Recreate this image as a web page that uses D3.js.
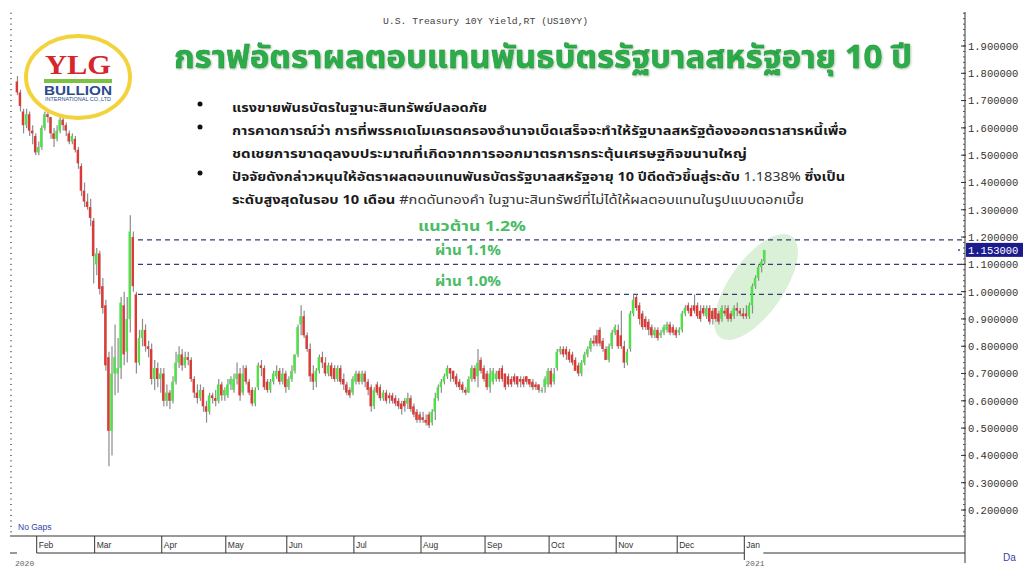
<!DOCTYPE html>
<html><head><meta charset="utf-8">
<script src="https://cdnjs.cloudflare.com/ajax/libs/d3/7.8.5/d3.min.js"></script>
<style>
html,body{margin:0;padding:0;background:#fff;}
svg{display:block;}
</style></head>
<body><svg id="chart" width="1024" height="577"></svg>
<script>
// ---- DATA (daily bars, 23 Jan 2020 – 12 Jan 2021) ----
const monthLabels = ["Jan","Feb","Mar","Apr","May","Jun","Jul","Aug","Sep","Oct","Nov","Dec","Jan"];
const monthBars   = [7,19,22,21,20,22,22,21,21,22,20,22,7];
const yTicks = [0.2,0.3,0.4,0.5,0.6,0.7,0.8,0.9,1.0,1.1,1.2,1.3,1.4,1.5,1.6,1.7,1.8,1.9];
const levels = [1.19,1.10,0.99];
const levelLabels = ["แนวต้าน 1.2%","ผ่าน 1.1%","ผ่าน 1.0%"];
const lastPrice = 1.153;

const opens = [
1.77,1.73,1.66,1.61,1.65,1.59,1.57,
1.51,1.53,1.60,1.65,1.64,1.58,1.56,1.59,1.63,1.61,1.58,1.55,1.56,1.52,1.46,1.37,1.33,1.31,1.26,
1.10,1.14,1.02,0.95,0.76,0.49,0.70,0.70,0.72,0.95,0.78,0.90,1.20,0.99,0.74,0.83,0.86,0.80,0.79,0.68,0.72,0.68,
0.70,0.60,0.63,0.60,0.67,0.74,0.77,0.73,0.76,0.75,0.68,0.63,0.61,0.64,0.58,0.56,0.62,0.61,0.60,0.66,0.62,
0.62,0.66,0.64,0.68,0.70,0.63,0.72,0.67,0.64,0.59,0.65,0.73,0.72,0.67,0.64,0.67,0.69,0.71,0.67,0.70,
0.65,0.68,0.71,0.77,0.88,0.91,0.84,0.79,0.70,0.67,0.71,0.76,0.74,0.70,0.73,0.72,0.68,0.72,0.68,0.66,0.64,0.63,
0.67,0.70,0.67,0.70,0.67,0.65,0.58,0.66,0.65,0.61,0.63,0.62,0.62,0.61,0.60,0.59,0.60,0.59,0.61,0.58,0.56,0.55,
0.54,0.53,0.55,0.52,0.56,0.61,0.65,0.67,0.69,0.72,0.71,0.69,0.67,0.66,0.64,0.63,0.68,0.72,0.69,0.75,0.72,
0.70,0.65,0.67,0.68,0.71,0.72,0.70,0.69,0.68,0.69,0.69,0.68,0.68,0.69,0.68,0.67,0.66,0.66,0.64,0.65,0.66,
0.71,0.67,0.72,0.78,0.79,0.79,0.78,0.77,0.75,0.73,0.70,0.74,0.77,0.79,0.82,0.84,0.86,0.82,0.79,0.75,0.80,0.85,
0.86,0.84,0.80,0.74,0.79,0.92,0.98,0.95,0.92,0.90,0.89,0.87,0.84,0.86,0.84,0.85,0.86,0.88,0.87,0.86,
0.85,0.86,0.92,0.95,0.94,0.95,0.95,0.93,0.94,0.91,0.94,0.93,0.94,0.92,0.90,0.93,0.94,0.92,0.91,0.94,0.93,0.92,
0.92,0.91,0.95,1.02,1.05,1.09,1.11];
const highs = [
1.79,1.74,1.67,1.67,1.66,1.61,1.58,
1.55,1.61,1.66,1.67,1.64,1.60,1.61,1.64,1.64,1.62,1.59,1.58,1.57,1.53,1.47,1.40,1.36,1.34,1.27,
1.16,1.15,1.05,0.97,0.78,0.80,0.88,0.83,0.98,1.00,0.98,1.28,1.22,1.00,0.86,0.90,0.88,0.82,0.81,0.75,0.74,0.72,
0.72,0.66,0.64,0.69,0.78,0.80,0.79,0.78,0.78,0.76,0.69,0.66,0.66,0.65,0.60,0.63,0.63,0.64,0.68,0.67,0.65,
0.68,0.69,0.70,0.74,0.72,0.73,0.73,0.68,0.65,0.65,0.74,0.75,0.73,0.68,0.68,0.71,0.73,0.72,0.72,0.71,
0.69,0.73,0.77,0.88,0.95,0.93,0.85,0.81,0.73,0.72,0.77,0.78,0.76,0.74,0.74,0.73,0.73,0.73,0.70,0.67,0.65,0.69,
0.71,0.71,0.71,0.71,0.68,0.66,0.65,0.67,0.66,0.64,0.64,0.63,0.63,0.62,0.61,0.60,0.61,0.63,0.62,0.59,0.57,0.56,
0.56,0.55,0.56,0.57,0.63,0.66,0.68,0.70,0.73,0.72,0.71,0.70,0.68,0.67,0.65,0.69,0.73,0.73,0.79,0.76,0.73,
0.71,0.72,0.72,0.71,0.72,0.73,0.70,0.70,0.69,0.70,0.69,0.69,0.69,0.69,0.68,0.68,0.67,0.66,0.65,0.69,0.72,
0.72,0.72,0.79,0.80,0.80,0.80,0.79,0.78,0.76,0.74,0.75,0.78,0.80,0.83,0.84,0.86,0.87,0.83,0.80,0.81,0.86,0.88,
0.88,0.93,0.82,0.79,0.93,0.99,0.99,0.96,0.93,0.91,0.90,0.88,0.87,0.87,0.86,0.88,0.89,0.89,0.88,0.87,
0.87,0.93,0.95,0.96,0.95,0.99,0.96,0.95,0.95,0.95,0.95,0.94,0.94,0.93,0.95,0.95,0.95,0.93,0.95,0.96,0.94,0.94,
0.95,0.96,1.03,1.06,1.10,1.12,1.153];
const lows = [
1.72,1.66,1.58,1.60,1.57,1.54,1.50,
1.50,1.52,1.59,1.62,1.56,1.53,1.55,1.58,1.59,1.57,1.54,1.54,1.51,1.45,1.35,1.31,1.30,1.24,1.03,
1.06,0.99,0.92,0.71,0.36,0.40,0.62,0.63,0.68,0.73,0.74,0.85,1.00,0.70,0.73,0.80,0.78,0.76,0.66,0.64,0.65,0.63,
0.58,0.58,0.57,0.59,0.66,0.72,0.71,0.72,0.73,0.67,0.61,0.59,0.60,0.56,0.52,0.55,0.59,0.58,0.59,0.60,0.60,
0.61,0.64,0.63,0.66,0.60,0.62,0.66,0.62,0.58,0.58,0.64,0.69,0.64,0.63,0.63,0.66,0.68,0.66,0.66,0.63,
0.64,0.67,0.70,0.76,0.84,0.83,0.78,0.67,0.64,0.65,0.70,0.72,0.69,0.69,0.68,0.67,0.67,0.66,0.64,0.62,0.61,0.62,
0.66,0.66,0.66,0.65,0.62,0.56,0.57,0.62,0.60,0.60,0.59,0.59,0.59,0.58,0.57,0.55,0.56,0.57,0.56,0.54,0.52,0.52,
0.52,0.51,0.50,0.51,0.53,0.60,0.63,0.66,0.68,0.67,0.67,0.65,0.64,0.63,0.62,0.63,0.67,0.67,0.65,0.70,0.67,
0.64,0.63,0.66,0.67,0.67,0.67,0.64,0.65,0.65,0.66,0.65,0.65,0.65,0.66,0.65,0.64,0.64,0.63,0.63,0.63,0.65,
0.65,0.66,0.71,0.77,0.76,0.75,0.74,0.73,0.71,0.69,0.69,0.73,0.76,0.78,0.80,0.80,0.80,0.78,0.75,0.74,0.79,0.84,
0.79,0.79,0.72,0.73,0.78,0.91,0.93,0.88,0.86,0.86,0.84,0.83,0.83,0.82,0.83,0.84,0.85,0.84,0.84,0.83,
0.84,0.85,0.91,0.92,0.91,0.92,0.90,0.89,0.91,0.90,0.88,0.88,0.89,0.88,0.89,0.91,0.89,0.89,0.90,0.91,0.91,0.90,
0.90,0.90,0.92,1.01,1.04,1.07,1.10];
const closes = [
1.73,1.68,1.61,1.65,1.59,1.58,1.51,
1.53,1.60,1.65,1.64,1.58,1.56,1.59,1.63,1.61,1.59,1.55,1.57,1.52,1.47,1.37,1.33,1.31,1.27,1.13,
1.14,1.01,0.94,0.73,0.49,0.70,0.76,0.72,0.96,0.77,0.90,1.22,1.02,0.74,0.83,0.86,0.80,0.79,0.68,0.72,0.68,0.70,
0.60,0.63,0.60,0.67,0.74,0.77,0.73,0.76,0.75,0.68,0.63,0.61,0.64,0.58,0.56,0.62,0.61,0.60,0.66,0.62,0.64,
0.66,0.68,0.68,0.70,0.62,0.70,0.67,0.63,0.59,0.64,0.73,0.72,0.65,0.64,0.67,0.70,0.71,0.67,0.70,0.65,
0.68,0.71,0.77,0.87,0.91,0.84,0.79,0.69,0.67,0.71,0.76,0.74,0.70,0.73,0.69,0.68,0.72,0.67,0.66,0.63,0.62,0.68,
0.70,0.67,0.70,0.67,0.64,0.58,0.64,0.63,0.61,0.63,0.60,0.61,0.60,0.59,0.58,0.57,0.58,0.61,0.57,0.55,0.53,0.53,
0.53,0.52,0.51,0.56,0.61,0.65,0.67,0.69,0.72,0.70,0.68,0.66,0.65,0.64,0.63,0.68,0.72,0.68,0.74,0.71,0.68,
0.65,0.70,0.71,0.70,0.68,0.68,0.65,0.66,0.66,0.67,0.66,0.67,0.66,0.67,0.66,0.65,0.65,0.64,0.64,0.68,0.71,
0.66,0.70,0.78,0.79,0.77,0.77,0.75,0.74,0.71,0.70,0.74,0.77,0.79,0.82,0.81,0.81,0.81,0.79,0.75,0.80,0.85,0.87,
0.80,0.80,0.74,0.78,0.92,0.97,0.94,0.90,0.87,0.87,0.86,0.84,0.86,0.83,0.85,0.87,0.88,0.85,0.85,0.84,
0.86,0.92,0.94,0.93,0.91,0.93,0.91,0.90,0.92,0.94,0.89,0.90,0.90,0.89,0.94,0.92,0.90,0.90,0.94,0.93,0.92,0.91,
0.91,0.95,1.02,1.05,1.09,1.11,1.153];

const titleTH = "กราฟอัตราผลตอบแทนพันธบัตรรัฐบาลสหรัฐอายุ 10 ปี";
const chartName = "U.S. Treasury 10Y Yield,RT (US10YY)";

// ---- SETUP ----
const svg = d3.select("#chart");
const N = closes.length;
const x = d3.scaleLinear().domain([0, N-1]).range([16.85, 16.85 + 3.05*(N-1)]);
const y = d3.scaleLinear().domain([0.2, 1.9]).range([510, 46]);
const AX = 965;
const thaiFont = "'Noto Sans Thai','Noto Sans Thai UI','Noto Looped Thai','Tahoma','DejaVu Sans',sans-serif";

const bars = d3.range(N).map(i => ({i, o:opens[i], h:highs[i], l:lows[i], c:closes[i]}));

// month start indices
const starts = []; let acc = 0;
monthBars.forEach(n => { starts.push(acc); acc += n; });

// ---- highlight ellipse ----
svg.append("ellipse").attr("cx", 756).attr("cy", 287).attr("rx", 62).attr("ry", 27)
  .attr("transform", "rotate(-55,756,287)").attr("fill", "#d3eed1").attr("opacity", 0.85);

// ---- level lines ----
svg.selectAll(".lvl").data(levels).join("line").attr("class","lvl")
  .attr("x1", 138).attr("x2", AX).attr("y1", d => y(d)).attr("y2", d => y(d))
  .attr("stroke", "#3a3a78").attr("stroke-width", 1.2).attr("stroke-dasharray", "5,4");

// ---- bars ----
const g = svg.append("g");
g.selectAll(".wick").data(bars).join("line").attr("class","wick")
  .attr("x1", d => x(d.i)+0.6).attr("x2", d => x(d.i)+0.6)
  .attr("y1", d => y(d.h)).attr("y2", d => y(d.l))
  .attr("stroke", "#8c8c8c").attr("stroke-width", 1.2);
g.selectAll(".body").data(bars).join("rect").attr("class","body")
  .attr("x", d => x(d.i)-1.2).attr("width", 2.4)
  .attr("y", d => y(Math.max(d.o,d.c)))
  .attr("height", d => Math.max(1.2, Math.abs(y(d.o)-y(d.c))))
  .attr("fill", d => d.c >= d.o ? "#4fe04a" : "#dc3a36");

// ---- right axis ----
svg.append("line").attr("x1", AX).attr("x2", AX).attr("y1", 12).attr("y2", 563).attr("stroke", "#333").attr("stroke-width", 1);
const minor = d3.range(0, 97).map(k => 0.1 + k*0.02).filter(v => y(v) >= 12 && y(v) <= 536);
svg.selectAll(".mt").data(minor).join("line").attr("class","mt")
  .attr("x1", AX-2).attr("x2", AX).attr("y1", d => y(d)).attr("y2", d => y(d))
  .attr("stroke", "#555").attr("stroke-width", 1);
svg.selectAll(".lmt").data(minor).join("line").attr("class","lmt")
  .attr("x1", 10).attr("x2", 12).attr("y1", d => y(d)).attr("y2", d => y(d))
  .attr("stroke", "#777").attr("stroke-width", 1);
const yAxis = d3.axisRight(y).tickValues(yTicks).tickFormat(d3.format(".6f")).tickSize(0).tickPadding(3);
const ya = svg.append("g").attr("transform", `translate(${AX},0)`).call(yAxis);
ya.select(".domain").remove();
ya.selectAll("text").attr("font-family", "'Liberation Mono','DejaVu Sans Mono',monospace").attr("font-size", 10.5).attr("fill", "#333");
svg.selectAll(".Mt").data(yTicks).join("line").attr("class","Mt")
  .attr("x1", AX-4).attr("x2", AX+1).attr("y1", d => y(d)).attr("y2", d => y(d)).attr("stroke", "#333");

// last price tag
svg.append("rect").attr("x", AX+1).attr("y", y(lastPrice)-7).attr("width", 57).attr("height", 14).attr("fill", "#1b1b8e");
svg.append("text").attr("x", AX+3).attr("y", y(lastPrice)+4).text(lastPrice.toFixed(6))
  .attr("font-family", "'Liberation Mono','DejaVu Sans Mono',monospace").attr("font-size", 10.5).attr("fill", "#fff");
svg.append("circle").attr("cx", AX-6).attr("cy", y(lastPrice)).attr("r", 1).attr("fill", "#3344aa");

// ---- x axis band ----
svg.append("line").attr("x1", 10).attr("x2", AX).attr("y1", 536).attr("y2", 536).attr("stroke", "#333");
const sepX = starts.slice(1).map(s => x(s) - 1.5);
svg.append("line").attr("x1", sepX[0]).attr("x2", sepX[sepX.length-1]).attr("y1", 553).attr("y2", 553).attr("stroke", "#333");
svg.append("line").attr("x1", sepX[sepX.length-1] + 19).attr("x2", AX).attr("y1", 553).attr("y2", 553).attr("stroke", "#333");
svg.append("line").attr("x1", 10).attr("x2", 17).attr("y1", 553).attr("y2", 553).attr("stroke", "#333");
svg.selectAll(".sep").data(sepX).join("line").attr("class","sep")
  .attr("x1", d => d).attr("x2", d => d).attr("y1", 536).attr("y2", (d,k) => k === sepX.length-1 ? 560 : 553)
  .attr("stroke", "#333");
svg.selectAll(".ml").data(monthLabels.slice(1)).join("text").attr("class","ml")
  .attr("x", (d,k) => sepX[k] + 2).attr("y", 548).text(d => d)
  .attr("font-family", "'Liberation Sans',Arial,sans-serif").attr("font-size", 8.5).attr("fill", "#333");
svg.append("text").attr("x", 15).attr("y", 566).text("2020").attr("font-family","'Liberation Mono',monospace").attr("font-size", 8).attr("fill", "#666");
svg.append("text").attr("x", sepX[sepX.length-1] + 1).attr("y", 566).text("2021").attr("font-family","'Liberation Mono',monospace").attr("font-size", 8).attr("fill", "#666");
svg.append("text").attr("x", 18).attr("y", 530).text("No  Gaps").attr("font-family","'Liberation Sans',Arial,sans-serif").attr("font-size", 8.5).attr("fill", "#3344aa");
svg.append("text").attr("x", 1003).attr("y", 561).text("Da").attr("font-family","'Liberation Sans',Arial,sans-serif").attr("font-size", 10).attr("fill", "#3344aa");

// ---- texts ----
svg.append("text").attr("x", 383).attr("y", 24).text(chartName)
  .attr("font-family", "'Liberation Mono','DejaVu Sans Mono',monospace").attr("font-size", 9.5).attr("fill", "#444")
  .attr("textLength", 205).attr("lengthAdjust", "spacingAndGlyphs");

svg.append("text").attr("x", 174).attr("y", 68).text(titleTH)
  .attr("font-family", thaiFont).attr("font-weight", "bold").attr("font-size", 32)
  .attr("fill", "#2bae49").attr("stroke", "#1e8a36").attr("stroke-width", 0.4)
  .attr("textLength", 738).attr("lengthAdjust", "spacingAndGlyphs")
  .style("filter", "drop-shadow(1px 1px 1px rgba(0,80,0,0.35))");

const bulletLines = [
  {y:112, len:255, parts:[["แรงขายพันธบัตรในฐานะสินทรัพย์ปลอดภัย","bold"]]},
  {y:135, len:615, parts:[["การคาดการณ์ว่า  การที่พรรคเดโมเครตครองอำนาจเบ็ดเสร็จจะทำให้รัฐบาลสหรัฐต้องออกตราสารหนี้เพื่อ","bold"]]},
  {y:158, len:515, parts:[["ชดเชยการขาดดุลงบประมาณที่เกิดจากการออกมาตรการกระตุ้นเศรษฐกิจขนานใหญ่","bold"]]},
  {y:181, len:613, parts:[["ปัจจัยดังกล่าวหนุนให้อัตราผลตอบแทนพันธบัตรรัฐบาลสหรัฐอายุ 10 ปีดีดตัวขึ้นสู่ระดับ ","bold"],["1.1838% ","normal"],["ซึ่งเป็น","bold"]]},
  {y:204, len:572, parts:[["ระดับสูงสุดในรอบ 10 เดือน ","bold"],["#กดดันทองคำ  ในฐานะสินทรัพย์ที่ไม่ได้ให้ผลตอบแทนในรูปแบบดอกเบี้ย","normal"]]}
];
bulletLines.forEach(b => {
  const t = svg.append("text").attr("x", 232).attr("y", b.y)
    .attr("font-family", thaiFont).attr("font-size", 12.5).attr("fill", "#1a1a1a")
    .attr("textLength", b.len).attr("lengthAdjust", "spacingAndGlyphs");
  b.parts.forEach(p => t.append("tspan").text(p[0]).attr("font-weight", p[1]).attr("fill", p[1]==="normal" ? "#333" : "#1a1a1a"));
});
svg.selectAll(".bul").data([104,127,173]).join("circle").attr("class","bul")
  .attr("cx", 200).attr("cy", d => d).attr("r", 2.5).attr("fill", "#111");

// level annotations
const annX = [418, 435, 435], annY = [231, 255, 286], annLen = [108, 66, 66];
svg.selectAll(".ann").data(levelLabels).join("text").attr("class","ann")
  .attr("x", (d,k) => annX[k]).attr("y", (d,k) => annY[k]).text(d => d)
  .attr("font-family", thaiFont).attr("font-weight", "bold").attr("font-size", 13.5).attr("fill", "#4cbb66")
  .attr("textLength", (d,k) => annLen[k]).attr("lengthAdjust", "spacingAndGlyphs");

// ---- logo ----
const logo = svg.append("g");
logo.append("ellipse").attr("cx", 78).attr("cy", 77).attr("rx", 52).attr("ry", 41)
  .attr("fill", "#fff").attr("stroke", "#f3d33b").attr("stroke-width", 4);
logo.append("text").attr("x", 45).attr("y", 74).text("YLG")
  .attr("font-family", "'Liberation Serif','DejaVu Serif',serif").attr("font-weight", "bold").attr("font-size", 28).attr("fill", "#d6262b")
  .attr("textLength", 66).attr("lengthAdjust", "spacingAndGlyphs");
logo.append("rect").attr("x", 44).attr("y", 79).attr("width", 68).attr("height", 4).attr("fill", "#7cc242");
logo.append("text").attr("x", 44).attr("y", 95).text("BULLION")
  .attr("font-family", "'Liberation Sans',Arial,sans-serif").attr("font-weight", "bold").attr("font-size", 12.5).attr("fill", "#2b4a8b")
  .attr("textLength", 68).attr("lengthAdjust", "spacingAndGlyphs");
logo.append("text").attr("x", 45).attr("y", 100.5).text("INTERNATIONAL CO.,LTD")
  .attr("font-family", "'Liberation Sans',Arial,sans-serif").attr("font-size", 4.5).attr("fill", "#2b4a8b")
  .attr("textLength", 66).attr("lengthAdjust", "spacingAndGlyphs");
</script>
</body></html>
